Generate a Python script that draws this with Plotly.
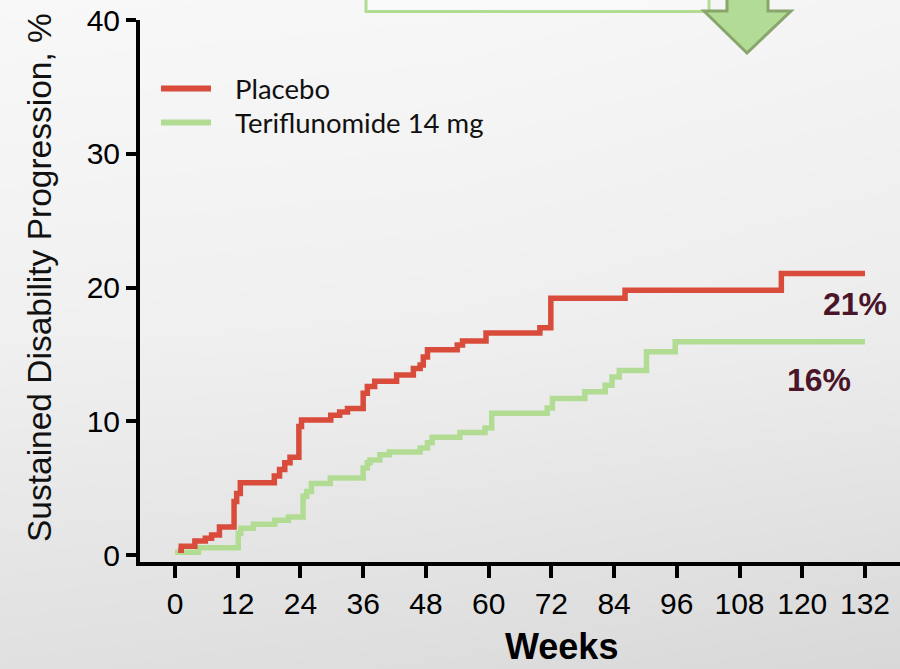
import plotly.graph_objects as go

# ---------------- data ----------------
placebo_weeks = [0.6, 1.2, 3.8, 5.8, 7, 8.5, 11.3, 11.8, 12.5, 19, 20, 21, 22, 23.7, 24.2,
                 29.8, 31.5, 33, 36, 36.8, 38.2, 42.4, 45.6, 46.9, 47.5, 48.3, 54, 55,
                 59.5, 69.8, 71.9, 86.1, 116, 132]
placebo_pct = [0.35, 0.65, 1.05, 1.25, 1.5, 2.1, 4.0, 4.6, 5.4, 5.9, 6.4, 6.9, 7.3, 9.6, 10.1,
               10.45, 10.7, 10.95, 12.1, 12.6, 13.0, 13.45, 13.95, 14.2, 14.8, 15.35, 15.7, 16.0,
               16.6, 17.0, 19.2, 19.8, 21.05, 21.05]

teri_weeks = [0, 4.5, 12.1, 12.6, 15, 19.1, 21.7, 24.5, 25.2, 26.1, 29.7, 36, 36.8, 37.3, 39.2,
              41, 46.9, 48.3, 49.2, 54.5, 59.3, 60.6, 71.2, 72.2, 78.4, 82.3, 83.6, 85, 90.2,
              95.7, 132]
teri_pct = [0.2, 0.55, 1.6, 2.0, 2.3, 2.6, 2.85, 4.4, 4.75, 5.35, 5.75, 6.5, 6.9, 7.1, 7.5,
            7.7, 8.0, 8.4, 8.8, 9.15, 9.5, 10.6, 11.0, 11.7, 12.2, 12.7, 13.3, 13.8, 15.2,
            15.95, 15.95]

series_names = ["Placebo", "Teriflunomide 14 mg"]
end_labels = ["21%", "16%"]
end_label_pos = [(130.1, 18.8), (123.2, 13.1)]   # (week, %) where the labels sit

x_ticks = [0, 12, 24, 36, 48, 60, 72, 84, 96, 108, 120, 132]
y_ticks = [0, 10, 20, 30, 40]

# background gray levels (bottom / middle / top rows, left -> right)
bg_gray = [[224, 221, 216],
           [240, 239, 236],
           [248, 247, 244]]

RED = "#d94c3c"
GREEN = "#b2dc94"
W, H = 900, 669


def px(x):
    return x / W


def py(y):
    return 1 - y / H


fig = go.Figure()

# background gradient on a full-page hidden subplot
fig.add_trace(go.Heatmap(
    z=bg_gray, x=[0, 0.5, 1], y=[0, 0.5, 1], zsmooth="best",
    colorscale=[[0, "rgb(0,0,0)"], [1, "rgb(255,255,255)"]], zmin=0, zmax=255,
    showscale=False, hoverinfo="skip", xaxis="x", yaxis="y"))

fig.add_trace(go.Scatter(x=teri_weeks, y=teri_pct, mode="lines", line_shape="hv",
                         line=dict(color=GREEN, width=5.5), name=series_names[1],
                         xaxis="x2", yaxis="y2", showlegend=False))
fig.add_trace(go.Scatter(x=placebo_weeks, y=placebo_pct, mode="lines", line_shape="hv",
                         line=dict(color=RED, width=5.5), name=series_names[0],
                         xaxis="x2", yaxis="y2", showlegend=False))

font_main = "Liberation Sans, Arial, sans-serif"

fig.update_layout(
    width=W, height=H,
    margin=dict(l=0, r=0, t=0, b=0, pad=0, autoexpand=False),
    paper_bgcolor="#eeeeee",
    plot_bgcolor="rgba(0,0,0,0)",
    xaxis=dict(domain=[0, 1], range=[0, 1], visible=False, fixedrange=True, automargin=False),
    yaxis=dict(domain=[0, 1], range=[0, 1], visible=False, fixedrange=True, automargin=False),
    xaxis2=dict(domain=[px(140), 1], range=[-6.696, 138.7], anchor="y2", automargin=False,
                tickvals=x_ticks, ticktext=[str(t) for t in x_ticks],
                showline=True, linecolor="black", linewidth=4,
                ticks="outside", ticklen=12, tickwidth=4, tickcolor="black",
                showgrid=False, zeroline=False,
                tickfont=dict(family=font_main, size=30, color="black")),
    yaxis2=dict(domain=[py(562), py(20)], range=[-0.523, 40], anchor="x2", automargin=False,
                tickvals=y_ticks, ticktext=[str(t) for t in y_ticks],
                showline=True, linecolor="black", linewidth=4,
                ticks="outside", ticklen=10, tickwidth=4, tickcolor="black",
                showgrid=False, zeroline=False,
                tickfont=dict(family=font_main, size=30, color="black")),
    showlegend=False,
)

shapes = []
# top callout box (partially off-page)
shapes.append(dict(type="rect", xref="paper", yref="paper",
                   x0=px(366), x1=px(709), y0=py(11.5), y1=py(-20),
                   line=dict(color=GREEN, width=3), fillcolor="rgba(255,255,255,0.35)",
                   layer="above"))
# down arrow
arrow_pts = [(727, -10), (768, -10), (768, 11), (791, 11), (747, 53), (704, 11), (727, 11)]
path = "M " + " L ".join(f"{px(a):.5f},{py(b):.5f}" for a, b in arrow_pts) + " Z"
shapes.append(dict(type="path", xref="paper", yref="paper", path=path,
                   fillcolor="#b2dc95", line=dict(color="#88a56c", width=3), layer="above"))
# legend samples
for yy, col in [(88.5, RED), (122.5, GREEN)]:
    shapes.append(dict(type="line", xref="paper", yref="paper",
                       x0=px(161), x1=px(211), y0=py(yy), y1=py(yy),
                       line=dict(color=col, width=6)))
fig.update_layout(shapes=shapes)

ann = []
for (yy, name) in [(89, series_names[0]), (123, series_names[1])]:
    ann.append(dict(xref="paper", yref="paper", x=px(233), y=py(yy), text=name,
                    showarrow=False, xanchor="left", yanchor="middle",
                    font=dict(family="Lato, sans-serif", size=27.5, color="#111111")))
for (wx, vy), lab in zip(end_label_pos, end_labels):
    ann.append(dict(xref="x2", yref="y2", x=wx, y=vy, text=f"<b>{lab}</b>",
                    showarrow=False, xanchor="center", yanchor="middle",
                    font=dict(family=font_main, size=32, color="#4a1529")))
ann.append(dict(xref="paper", yref="paper", x=px(561), y=0, text="<b>Weeks</b>",
                showarrow=False, xanchor="center", yanchor="bottom",
                font=dict(family=font_main, size=36, color="black")))
ann.append(dict(xref="paper", yref="paper", x=px(39), y=py(278),
                text="Sustained Disability Progression, %", textangle=-90,
                showarrow=False, xanchor="center", yanchor="middle",
                font=dict(family=font_main, size=33.5, color="#111111")))
fig.update_layout(annotations=ann)

fig.write_html("out.html")
